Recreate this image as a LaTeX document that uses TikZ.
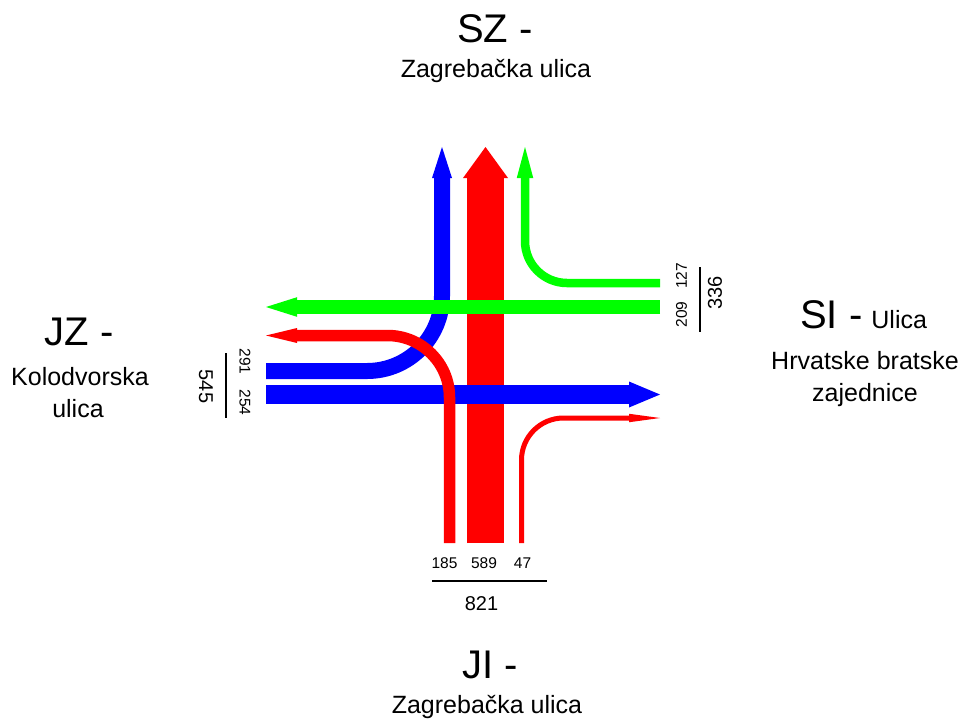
\documentclass[tikz,border=0pt]{standalone}
\usepackage{fontspec}
\setmainfont{Liberation Sans}
\usetikzlibrary{arrows.meta}
\definecolor{fred}{RGB}{255,0,0}
\definecolor{fblue}{RGB}{0,0,255}
\definecolor{fgreen}{RGB}{0,255,0}
\begin{document}
\begin{tikzpicture}[x=1pt,y=-1pt,
  flow/.style={line cap=butt,line join=round},
  tipx/.style={-{Triangle[length=31pt,width=#1 1,line width=0pt]}},
  big/.style={font=\fontsize{40}{48}\selectfont,inner sep=0pt},
  mid/.style={font=\fontsize{25}{30}\selectfont,inner sep=0pt},
  num/.style={font=\fontsize{15.5}{18}\selectfont,inner sep=0pt},
  sum/.style={font=\fontsize{20}{24}\selectfont,inner sep=0pt},
  rule/.style={black,line width=1.2pt}]
\useasboundingbox (0,0) rectangle (968,724);
% end points
\coordinate (SZb) at (442,147);
\coordinate (SZr) at (485.5,147);
\coordinate (SZg) at (525,147);
\coordinate (JZg) at (266,307);
\coordinate (JZr) at (266,335.5);
\coordinate (JZb1) at (266,371);
\coordinate (JZb2) at (266,394.5);
\coordinate (SIg1) at (660,283);
\coordinate (SIg2) at (660,307);
\coordinate (SIb) at (660,394.5);
\coordinate (SIr) at (660,418);
\coordinate (JIr1) at (449.5,543);
\coordinate (JIr2) at (485.5,543);
\coordinate (JIr3) at (521.5,543);
% flows
\draw[flow,fred,line width=37pt,tipx=8pt] (JIr2) -- (SZr);
\draw[flow,fblue,line width=16pt,rounded corners=75pt,tipx=4pt] (JZb1) -| (SZb);
\draw[flow,fblue,line width=19pt,tipx=7pt] (JZb2) -- (SIb);
\draw[flow,fgreen,line width=13.6pt,tipx=6pt] (SIg2) -- (JZg);
\draw[flow,fgreen,line width=8.5pt,rounded corners=42pt,tipx=8pt] (SIg1) -| (SZg);
\draw[flow,fred,line width=11.5pt,rounded corners=62pt,tipx=3.5pt] (JIr1) |- (JZr);
\draw[flow,fred,line width=5pt,rounded corners=42pt,tipx=3.5pt] (JIr3) |- (SIr);
% approach names
\node[big,anchor=base] (nSZ) at (495,42) {SZ -};
\node[mid,anchor=base] (nSZs) at (496,77) {Zagrebačka ulica};
\node[big,anchor=base] (nJZ) at (79,345) {JZ -};
\node[mid,anchor=base] (nJZs1) at (80,385) {Kolodvorska};
\node[mid,anchor=base] (nJZs2) at (78,417) {ulica};
\node[inner sep=0pt,anchor=base west] (nSI) at (800,328) {{\fontsize{40}{48}\selectfont SI -}\hspace{9pt}{\fontsize{25}{30}\selectfont Ulica}};
\node[mid,anchor=base] (nSIs1) at (865,369) {Hrvatske bratske};
\node[mid,anchor=base] (nSIs2) at (865,401) {zajednice};
\node[big,anchor=base] (nJI) at (490,678) {JI -};
\node[mid,anchor=base] (nJIs) at (487,713) {Zagrebačka ulica};
% volumes south
\node[num,anchor=base] (v185) at (444.5,568) {185};
\node[num,anchor=base] (v589) at (484,568) {589};
\node[num,anchor=base] (v47) at (522.5,568) {47};
\coordinate (sL) at (432,581);
\coordinate (sR) at (547,581);
\draw[rule] (sL) -- (sR);
\node[sum,anchor=base] (v821) at (481.5,610) {821};
% volumes east
\node[num,rotate=90] (v127) at (681.5,276) {127};
\node[num,rotate=90] (v209) at (681.5,314.5) {209};
\coordinate (eT) at (700,267);
\coordinate (eB) at (700,332);
\draw[rule] (eT) -- (eB);
\node[sum,rotate=90] (v336) at (715,293) {336};
% volumes west
\node[num,rotate=-90] (v291) at (245,361.5) {291};
\node[num,rotate=-90] (v254) at (245,402.5) {254};
\coordinate (wT) at (226,353);
\coordinate (wB) at (226,418);
\draw[rule] (wT) -- (wB);
\node[sum,rotate=-90] (v545) at (206,386.5) {545};
\end{tikzpicture}
\end{document}
